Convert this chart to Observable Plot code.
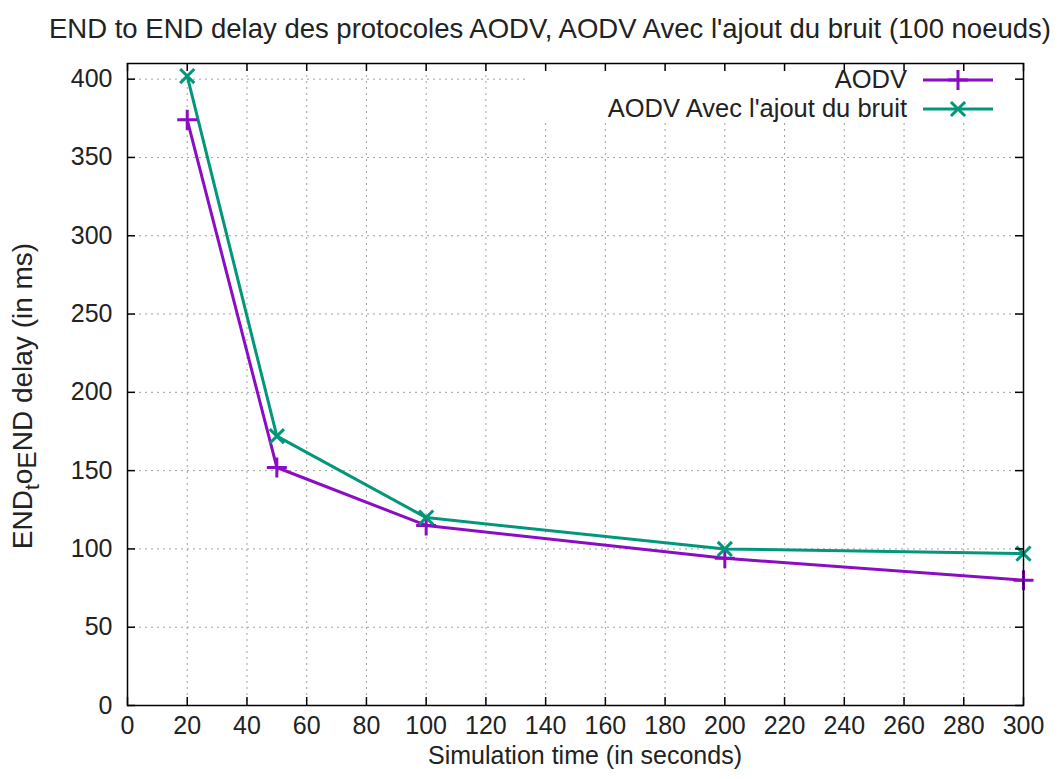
<!DOCTYPE html>
<html><head><meta charset="utf-8">
<script src="https://cdn.jsdelivr.net/npm/d3@7"></script>
<script src="https://cdn.jsdelivr.net/npm/@observablehq/plot@0.6"></script>
<style>body{margin:0;background:#fff} svg{display:block}</style>
</head><body><div id="chart"></div>
<script>
// ---- data ----
const times = [20, 50, 100, 200, 300];
const aodv = [374, 152, 115, 94, 80];
const aodvBruit = [402, 172, 120, 100, 97];
const seriesNames = ["AODV", "AODV Avec l'ajout du bruit"];
const xTicks = [0, 20, 40, 60, 80, 100, 120, 140, 160, 180, 200, 220, 240, 260, 280, 300];
const yTicks = [0, 50, 100, 150, 200, 250, 300, 350, 400];
const titleText = "END to END delay des protocoles AODV, AODV Avec l'ajout du bruit (100 noeuds)";
const xLabel = "Simulation time (in seconds)";

const rows = [
  ...times.map((t, i) => ({time: t, value: aodv[i], series: seriesNames[0]})),
  ...times.map((t, i) => ({time: t, value: aodvBruit[i], series: seriesNames[1]}))
];

// ---- layout ----
const W = 1063, H = 779, ML = 127, MR = 40, MT = 63, MB = 74;
const iw = W - ML - MR, ih = H - MT - MB;
const font = "'Liberation Sans', Arial, sans-serif";
const colors = ["#8a0dc4", "#00977a"];
const symbols = ["plus", "times"];
const gridStyle = {stroke: "#a0a0a0", strokeOpacity: 1, strokeDasharray: "2,4", strokeWidth: 1};

const chart = Plot.plot({
  width: W, height: H,
  marginLeft: ML, marginRight: MR, marginTop: MT, marginBottom: MB,
  style: {fontFamily: font, fontSize: "25px", color: "#000", background: "#fff", overflow: "visible"},
  x: {domain: [0, 300]},
  y: {domain: [0, 410]},
  color: {domain: seriesNames, range: colors},
  symbol: {domain: seriesNames, range: symbols},
  marks: [
    Plot.gridX(xTicks, gridStyle),
    Plot.gridY(yTicks, gridStyle),
    Plot.line(rows, {x: "time", y: "value", z: "series", stroke: "series", strokeWidth: 3}),
    Plot.dot(rows, {x: "time", y: "value", stroke: "series", symbol: "series", r: 6.5, strokeWidth: 3}),
    Plot.tickX(xTicks, {x: d => d, insetTop: ih - 8, stroke: "#000", strokeWidth: 1.5}),
    Plot.tickX(xTicks, {x: d => d, insetBottom: ih - 8, stroke: "#000", strokeWidth: 1.5}),
    Plot.tickY(yTicks, {y: d => d, insetRight: iw - 8, stroke: "#000", strokeWidth: 1.5}),
    Plot.tickY(yTicks, {y: d => d, insetLeft: iw - 8, stroke: "#000", strokeWidth: 1.5}),
    Plot.frame({stroke: "#000", strokeWidth: 1.5}),
    Plot.axisX(xTicks, {tickSize: 0, tickPadding: 11, label: null, fontSize: 25, fill: "#222"}),
    Plot.axisY(yTicks, {tickSize: 0, tickPadding: 15, label: null, fontSize: 25, fill: "#222"})
  ]
});

document.getElementById("chart").appendChild(chart);
const svg = d3.select(chart);

// legend background (opaque key box like gnuplot)
svg.insert("rect", "g[aria-label=line]")
  .attr("x", 525).attr("y", MT + 1).attr("width", W - MR - 525 - 1).attr("height", 58)
  .attr("fill", "#fff");

// legend entries
const legendY = [79, 108];
seriesNames.forEach((name, i) => {
  const g = svg.append("g");
  g.append("text").attr("x", 907).attr("y", legendY[i]).attr("dy", "0.35em")
    .attr("text-anchor", "end").attr("font-family", font).attr("font-size", 25.5).attr("fill", "#222")
    .text(name);
  g.append("line").attr("x1", 923).attr("x2", 993).attr("y1", legendY[i] + 1).attr("y2", legendY[i] + 1)
    .attr("stroke", colors[i]).attr("stroke-width", 3);
  g.append("path").attr("transform", `translate(958,${legendY[i] + 1})`)
    .attr("d", d3.symbol(i === 0 ? d3.symbolPlus : d3.symbolTimes, Math.PI * 42)())
    .attr("fill", "none").attr("stroke", colors[i]).attr("stroke-width", 3);
});

// title
svg.append("text").attr("x", 550).attr("y", 38).attr("text-anchor", "middle")
  .attr("font-family", font).attr("font-size", 27.5).attr("fill", "#222").text(titleText);

// x label
svg.append("text").attr("x", 585).attr("y", 764).attr("text-anchor", "middle")
  .attr("font-family", font).attr("font-size", 25).attr("fill", "#222").text(xLabel);

// y label with gnuplot-style enhanced subscripts: END_to_END delay (in ms)
const yl = svg.append("text").attr("transform", "translate(32,396) rotate(-90)")
  .attr("text-anchor", "middle").attr("font-family", font).attr("font-size", 28).attr("fill", "#222");
yl.append("tspan").text("END");
yl.append("tspan").attr("dy", 7).attr("font-size", 21).text("t");
yl.append("tspan").attr("dy", -7).text("o");
yl.append("tspan").attr("dy", 4).attr("font-size", 26).text("E");
yl.append("tspan").attr("dy", -4).text("ND delay (in ms)");
</script>
</body></html>
